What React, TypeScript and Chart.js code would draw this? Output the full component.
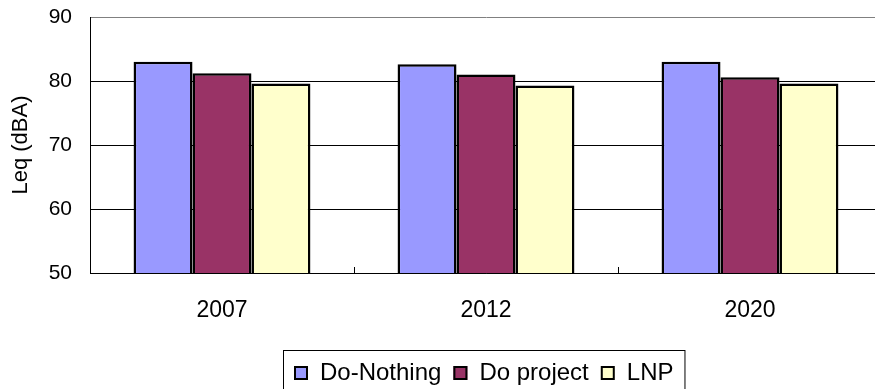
import React, { useEffect, useRef } from "react";
import { Chart, registerables } from "chart.js";

Chart.register(...registerables);

const categories = ["2007", "2012", "2020"];
const seriesNames = ["Do-Nothing", "Do project", "LNP"];
const doNothing = [83.0, 82.6, 83.0];
const doProject = [81.2, 81.0, 80.6];
const lnp = [79.6, 79.3, 79.6];
const seriesColors = ["#9999FF", "#993366", "#FFFFCC"];
const yTicks = [50, 60, 70, 80, 90];
const yTitle = "Leq (dBA)";

const FONT = "'Liberation Sans', Arial, sans-serif";

const decorPlugin = {
  id: "decor",
  afterDraw(chart: any) {
    const ctx = chart.ctx;
    const area = chart.chartArea;
    const xs = chart.scales.x;
    ctx.save();
    // inward category separator ticks
    ctx.strokeStyle = "#000";
    ctx.lineWidth = 1;
    for (let i = 1; i < categories.length; i++) {
      const x = Math.round((xs.getPixelForValue(i - 1) + xs.getPixelForValue(i)) / 2) + 0.5;
      ctx.beginPath();
      ctx.moveTo(x, area.bottom - 6);
      ctx.lineTo(x, area.bottom);
      ctx.stroke();
    }
    // legend
    ctx.font = `24px ${FONT}`;
    const box = 14;
    const gap = 12;
    const itemGap = 12;
    const widths = seriesNames.map((n) => ctx.measureText(n).width);
    let total = 0;
    widths.forEach((w, i) => {
      total += box + gap + w + (i < widths.length - 1 ? itemGap : 0);
    });
    const pad = 11;
    const cx = (area.left + area.right) / 2 - 2;
    let x = Math.round(cx - total / 2);
    const top = 350;
    const baseline = 380;
    ctx.strokeStyle = "#000";
    ctx.lineWidth = 1;
    ctx.strokeRect(x - pad + 0.5, top + 0.5, total + 2 * pad, 60);
    ctx.textBaseline = "alphabetic";
    ctx.textAlign = "left";
    chart.data.datasets.forEach((ds: any, i: number) => {
      ctx.fillStyle = ds.backgroundColor;
      ctx.fillRect(x, baseline - box, box, box);
      ctx.lineWidth = 2;
      ctx.strokeStyle = "#000";
      ctx.strokeRect(x + 1, baseline - box + 1, box - 2, box - 2);
      ctx.fillStyle = "#000";
      ctx.fillText(ds.label, x + box + gap, baseline);
      x += box + gap + widths[i] + itemGap;
    });
    ctx.restore();
  },
};

export default function App() {
  const ref = useRef<HTMLCanvasElement>(null);
  useEffect(() => {
    const canvas = ref.current;
    if (!canvas) return;
    const values = [doNothing, doProject, lnp];
    const chart = new Chart(canvas, {
      type: "bar",
      data: {
        labels: categories,
        datasets: seriesNames.map((name, i) => ({
          label: name,
          data: values[i],
          backgroundColor: seriesColors[i],
          borderColor: "#000",
          borderWidth: 2.5,
          borderSkipped: false,
          barPercentage: 1,
          categoryPercentage: 0.67,
        })),
      },
      options: {
        responsive: false,
        animation: false,
        devicePixelRatio: 1,
        layout: { padding: { top: 17, left: 0, right: 0, bottom: 0 } },
        plugins: {
          legend: { display: false },
          tooltip: { enabled: false },
        },
        scales: {
          x: {
            grid: { display: false },
            border: { display: true, color: "#000", width: 1 },
            ticks: {
              color: "#000",
              font: { family: FONT, size: 23 },
              padding: 16,
            },
            afterFit(scale: any) {
              scale.height = 147;
              scale.paddingLeft = 0;
              scale.paddingRight = 0;
            },
          },
          y: {
            min: 50,
            max: 90,
            afterBuildTicks(scale: any) {
              scale.ticks = yTicks.map((v) => ({ value: v }));
            },
            grid: {
              drawTicks: false,
              color: (c: any) => (c.tick && c.tick.value === 90 ? "#808080" : "#000"),
              lineWidth: 1,
            },
            border: { display: true, color: "#000", width: 1 },
            ticks: {
              color: "#000",
              font: { family: FONT, size: 21 },
              padding: 18,
            },
            title: {
              display: true,
              text: yTitle,
              color: "#000",
              font: { family: FONT, size: 22 },
              padding: { top: 8, bottom: 0 },
            },
            afterFit(scale: any) {
              scale.width = 90;
              scale.paddingTop = 0;
              scale.paddingBottom = 0;
            },
          },
        },
      },
      plugins: [decorPlugin],
    });
    return () => chart.destroy();
  }, []);
  return (
    <div
      style={{
        position: "fixed",
        left: 0,
        top: 0,
        width: 875,
        height: 389,
        overflow: "hidden",
        background: "#fff",
      }}
    >
      <canvas ref={ref} width={882} height={420} style={{ display: "block" }} />
    </div>
  );
}
